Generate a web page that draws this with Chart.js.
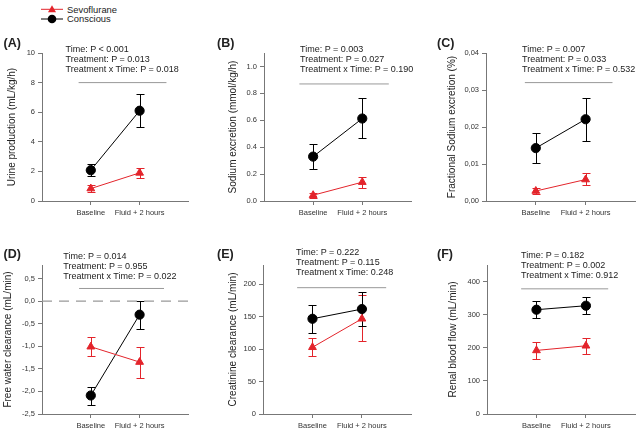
<!DOCTYPE html>
<html>
<head>
<meta charset="utf-8">
<script src="https://cdn.jsdelivr.net/npm/chart.js@4.4.0/dist/chart.umd.min.js"></script>
<style>
  body { margin: 0; width: 642px; height: 432px; position: relative; overflow: hidden; background: #fff;
         font-family: "Liberation Sans", Arial, sans-serif; color: #222; }
  canvas { position: absolute; }
  .lbl { position: absolute; font-weight: bold; font-size: 12.5px; line-height: 14px; }
  .note { position: absolute; font-size: 9px; line-height: 9.7px; white-space: nowrap; }
  .leg { position: absolute; left: 67px; top: 4.5px; font-size: 9.4px; line-height: 9.7px; }
</style>
</head>
<body>
<svg style="position:absolute;left:38px;top:3px" width="30" height="22">
  <line x1="3" y1="6.3" x2="25" y2="6.3" stroke="#e3242b" stroke-width="1"/>
  <polygon points="14,2.3 10,9.3 18,9.3" fill="#e3242b"/>
  <line x1="3" y1="16" x2="25" y2="16" stroke="#000" stroke-width="1"/>
  <circle cx="14" cy="16" r="4.3" fill="#000"/>
</svg>
<div class="leg">Sevoflurane<br>Conscious</div>

<script>
// categories on the x axis
const categories = ['Baseline', 'Fluid + 2 hours'];

// (A) urine production (mL/kg/h)
const urineSevo = [0.84, 1.90], urineSevoLo = [0.62, 1.55], urineSevoHi = [1.06, 2.22];
const urineCons = [2.08, 6.10], urineConsLo = [1.72, 5.03], urineConsHi = [2.50, 7.20];
const urineTicks = [0, 2, 4, 6, 8, 10];

// (B) sodium excretion (mmol/kg/h)
const sodiumSevo = [0.043, 0.14], sodiumSevoLo = [0.025, 0.094], sodiumSevoHi = [0.06, 0.18];
const sodiumCons = [0.33, 0.613], sodiumConsLo = [0.235, 0.466], sodiumConsHi = [0.424, 0.762];
const sodiumTicks = [0, 0.2, 0.4, 0.6, 0.8, 1.0];

// (C) fractional sodium excretion (%)
const fracSevo = [0.0027, 0.0058], fracSevoLo = [0.0018, 0.0042], fracSevoHi = [0.0036, 0.0076];
const fracCons = [0.0143, 0.0221], fracConsLo = [0.0103, 0.0161], fracConsHi = [0.0185, 0.0279];
const fracTicks = [0, 0.01, 0.02, 0.03, 0.04];

// (D) free water clearance (mL/min)
const waterSevo = [-1.01, -1.35], waterSevoLo = [-1.22, -1.70], waterSevoHi = [-0.80, -1.01];
const waterCons = [-2.09, -0.30], waterConsLo = [-2.31, -0.61], waterConsHi = [-1.90, 0.0];
const waterTicks = [-2.5, -2.0, -1.5, -1.0, -0.5, 0.0, 0.5];

// (E) creatinine clearance (mL/min)
const creatSevo = [103, 147], creatSevoLo = [89, 113], creatSevoHi = [117, 183];
const creatCons = [147, 162], creatConsLo = [125, 136], creatConsHi = [169, 189];
const creatTicks = [0, 50, 100, 150, 200];

// (F) renal blood flow (mL/min)
const rbfSevo = [192, 206], rbfSevoLo = [166, 182], rbfSevoHi = [218, 230];
const rbfCons = [315, 327], rbfConsLo = [290, 301], rbfConsHi = [340, 354];
const rbfTicks = [0, 100, 200, 300, 400];

// grey bar above the groups, in data units
const sigLevel = [8.0, 0.87, 0.032, 0.28, 195, 378];
const sigFrom = [-0.25, -0.28, -0.22, -0.24, -0.31, -0.31];
const sigTo = [1.55, 1.54, 1.54, 1.50, 1.49, 1.45];

const RED = '#e3242b';
const AXIS = '#777';

const errorBars = {
  id: 'errorBars',
  beforeDatasetsDraw(chart) {
    const ctx = chart.ctx, ys = chart.scales.y;
    chart.data.datasets.forEach((ds, i) => {
      if (!ds.errLo) return;
      const meta = chart.getDatasetMeta(i);
      ctx.save();
      ctx.strokeStyle = ds.borderColor;
      ctx.lineWidth = 1;
      meta.data.forEach((pt, j) => {
        const x = Math.round(pt.x) + 0.5;
        const lo = Math.round(ys.getPixelForValue(ds.errLo[j])) + 0.5;
        const hi = Math.round(ys.getPixelForValue(ds.errHi[j])) + 0.5;
        ctx.beginPath();
        ctx.moveTo(x, lo); ctx.lineTo(x, hi);
        ctx.moveTo(x - 4, lo); ctx.lineTo(x + 4, lo);
        ctx.moveTo(x - 4, hi); ctx.lineTo(x + 4, hi);
        ctx.stroke();
      });
      ctx.restore();
    });
  }
};

function pts(vals) {
  return vals.map((v, i) => ({ x: i, y: v }));
}

function addText(cls, left, top, html) {
  const d = document.createElement('div');
  d.className = cls;
  d.style.left = left + 'px';
  d.style.top = top + 'px';
  d.innerHTML = html;
  document.body.appendChild(d);
}

function makePanel(p) {
  const yW = p.x0 - p.titleX + 6, padTop = 8, padRight = 4, xH = 20;
  const w = yW + (p.x1 - p.x0) + padRight, h = padTop + (p.y1 - p.y0) + xH;
  const cv = document.createElement('canvas');
  cv.width = w; cv.height = h;
  cv.style.width = w + 'px'; cv.style.height = h + 'px';
  cv.style.left = (p.x0 - yW) + 'px'; cv.style.top = (p.y0 - padTop) + 'px';
  document.body.appendChild(cv);

  const datasets = [{
    data: [{ x: sigFrom[p.k], y: sigLevel[p.k] }, { x: sigTo[p.k], y: sigLevel[p.k] }],
    borderColor: '#999', borderWidth: 1, pointRadius: 0
  }];
  if (p.zeroLine) {
    datasets.push({
      data: [{ x: -1, y: 0 }, { x: 2.2, y: 0 }],
      borderColor: '#999', borderWidth: 1.3, borderDash: [10, 7], pointRadius: 0
    });
  }
  datasets.push({
    label: 'Sevoflurane', data: pts(p.sevo), errLo: p.sevoLo, errHi: p.sevoHi,
    borderColor: RED, backgroundColor: RED, borderWidth: 1,
    pointStyle: 'triangle', pointRadius: 4.5, pointBorderWidth: 1
  }, {
    label: 'Conscious', data: pts(p.cons), errLo: p.consLo, errHi: p.consHi,
    borderColor: '#000', backgroundColor: '#000', borderWidth: 1,
    pointStyle: 'circle', pointRadius: 4.6, pointBorderWidth: 1
  });

  new Chart(cv, {
    type: 'line',
    data: { datasets },
    plugins: [errorBars],
    options: {
      responsive: false,
      animation: false,
      devicePixelRatio: 1,
      clip: false,
      layout: { padding: { top: padTop, right: padRight, left: 0, bottom: 0 } },
      plugins: { legend: { display: false }, tooltip: { enabled: false } },
      scales: {
        x: {
          type: 'linear', min: -1, max: 2,
          afterBuildTicks: s => { s.ticks = [{ value: 0 }, { value: 1 }]; },
          afterFit: s => { s.height = xH; },
          ticks: { callback: v => categories[v], font: { size: 7.5, family: 'Liberation Sans' },
                   color: '#333', padding: 3, maxRotation: 0 },
          grid: { drawOnChartArea: false, tickLength: 4, color: AXIS },
          border: { color: AXIS }
        },
        y: {
          min: p.min, max: p.max,
          afterBuildTicks: s => { s.ticks = p.ticks.map(v => ({ value: v })); },
          afterFit: s => { s.width = yW; },
          ticks: { callback: p.fmt, font: { size: 7.5, family: 'Liberation Sans' }, color: '#333', padding: 3 },
          grid: { drawOnChartArea: false, tickLength: 4, color: AXIS },
          border: { color: AXIS },
          title: { display: true, text: p.title, font: { size: 10, family: 'Liberation Sans' },
                   color: '#222', padding: 0 }
        }
      }
    }
  });

  addText('lbl', p.lblX, p.lblY - 7, p.lbl);
  addText('note', p.noteX, p.noteY - 4.85, p.notes.join('<br>'));
}

const intFmt = v => String(v);
const comma = d => v => v.toFixed(d).replace('.', ',');

makePanel({ k: 0, lbl: '(A)', lblX: 3.5, lblY: 42.7, x0: 42, x1: 190, y0: 53, y1: 201, titleX: 12,
  min: 0, max: 10, ticks: urineTicks, fmt: intFmt, title: 'Urine production (mL/kg/h)',
  sevo: urineSevo, sevoLo: urineSevoLo, sevoHi: urineSevoHi,
  cons: urineCons, consLo: urineConsLo, consHi: urineConsHi,
  noteX: 65.5, noteY: 50, notes: ['Time: P &lt; 0.001', 'Treatment: P = 0.013', 'Treatment x Time: P = 0.018'] });

makePanel({ k: 1, lbl: '(B)', lblX: 217, lblY: 43.3, x0: 264, x1: 413, y0: 53, y1: 201, titleX: 233,
  min: 0, max: 1.1, ticks: sodiumTicks, fmt: v => v.toFixed(1), title: 'Sodium excretion (mmol/kg/h)',
  sevo: sodiumSevo, sevoLo: sodiumSevoLo, sevoHi: sodiumSevoHi,
  cons: sodiumCons, consLo: sodiumConsLo, consHi: sodiumConsHi,
  noteX: 300, noteY: 50, notes: ['Time: P = 0.003', 'Treatment: P = 0.027', 'Treatment x Time: P = 0.190'] });

makePanel({ k: 2, lbl: '(C)', lblX: 437, lblY: 43.3, x0: 486, x1: 637, y0: 53, y1: 201, titleX: 452,
  min: 0, max: 0.04, ticks: fracTicks, fmt: comma(2), title: 'Fractional Sodium excretion (%)',
  sevo: fracSevo, sevoLo: fracSevoLo, sevoHi: fracSevoHi,
  cons: fracCons, consLo: fracConsLo, consHi: fracConsHi,
  noteX: 522, noteY: 50, notes: ['Time: P = 0.007', 'Treatment: P = 0.033', 'Treatment x Time: P = 0.532'] });

makePanel({ k: 3, lbl: '(D)', lblX: 3.5, lblY: 254.3, x0: 42, x1: 190, y0: 265, y1: 414, titleX: 8,
  min: -2.5, max: 0.8, ticks: waterTicks, fmt: comma(1), title: 'Free water clearance (mL/min)', zeroLine: true,
  sevo: waterSevo, sevoLo: waterSevoLo, sevoHi: waterSevoHi,
  cons: waterCons, consLo: waterConsLo, consHi: waterConsHi,
  noteX: 63.3, noteY: 257, notes: ['Time: P = 0.014', 'Treatment: P = 0.955', 'Treatment x Time: P = 0.022'] });

makePanel({ k: 4, lbl: '(E)', lblX: 217, lblY: 254.3, x0: 263, x1: 413, y0: 265, y1: 414, titleX: 233,
  min: 0, max: 230, ticks: creatTicks, fmt: intFmt, title: 'Creatinine clearance (mL/min)',
  sevo: creatSevo, sevoLo: creatSevoLo, sevoHi: creatSevoHi,
  cons: creatCons, consLo: creatConsLo, consHi: creatConsHi,
  noteX: 296, noteY: 253.3, notes: ['Time: P = 0.222', 'Treatment: P = 0.115', 'Treatment x Time: 0.248'] });

makePanel({ k: 5, lbl: '(F)', lblX: 437, lblY: 254.3, x0: 487, x1: 637, y0: 265, y1: 414, titleX: 453,
  min: 0, max: 450, ticks: rbfTicks, fmt: intFmt, title: 'Renal blood flow (mL/min)',
  sevo: rbfSevo, sevoLo: rbfSevoLo, sevoHi: rbfSevoHi,
  cons: rbfCons, consLo: rbfConsLo, consHi: rbfConsHi,
  noteX: 521, noteY: 256, notes: ['Time: P = 0.182', 'Treatment: P = 0.002', 'Treatment x Time: 0.912'] });
</script>
</body>
</html>
